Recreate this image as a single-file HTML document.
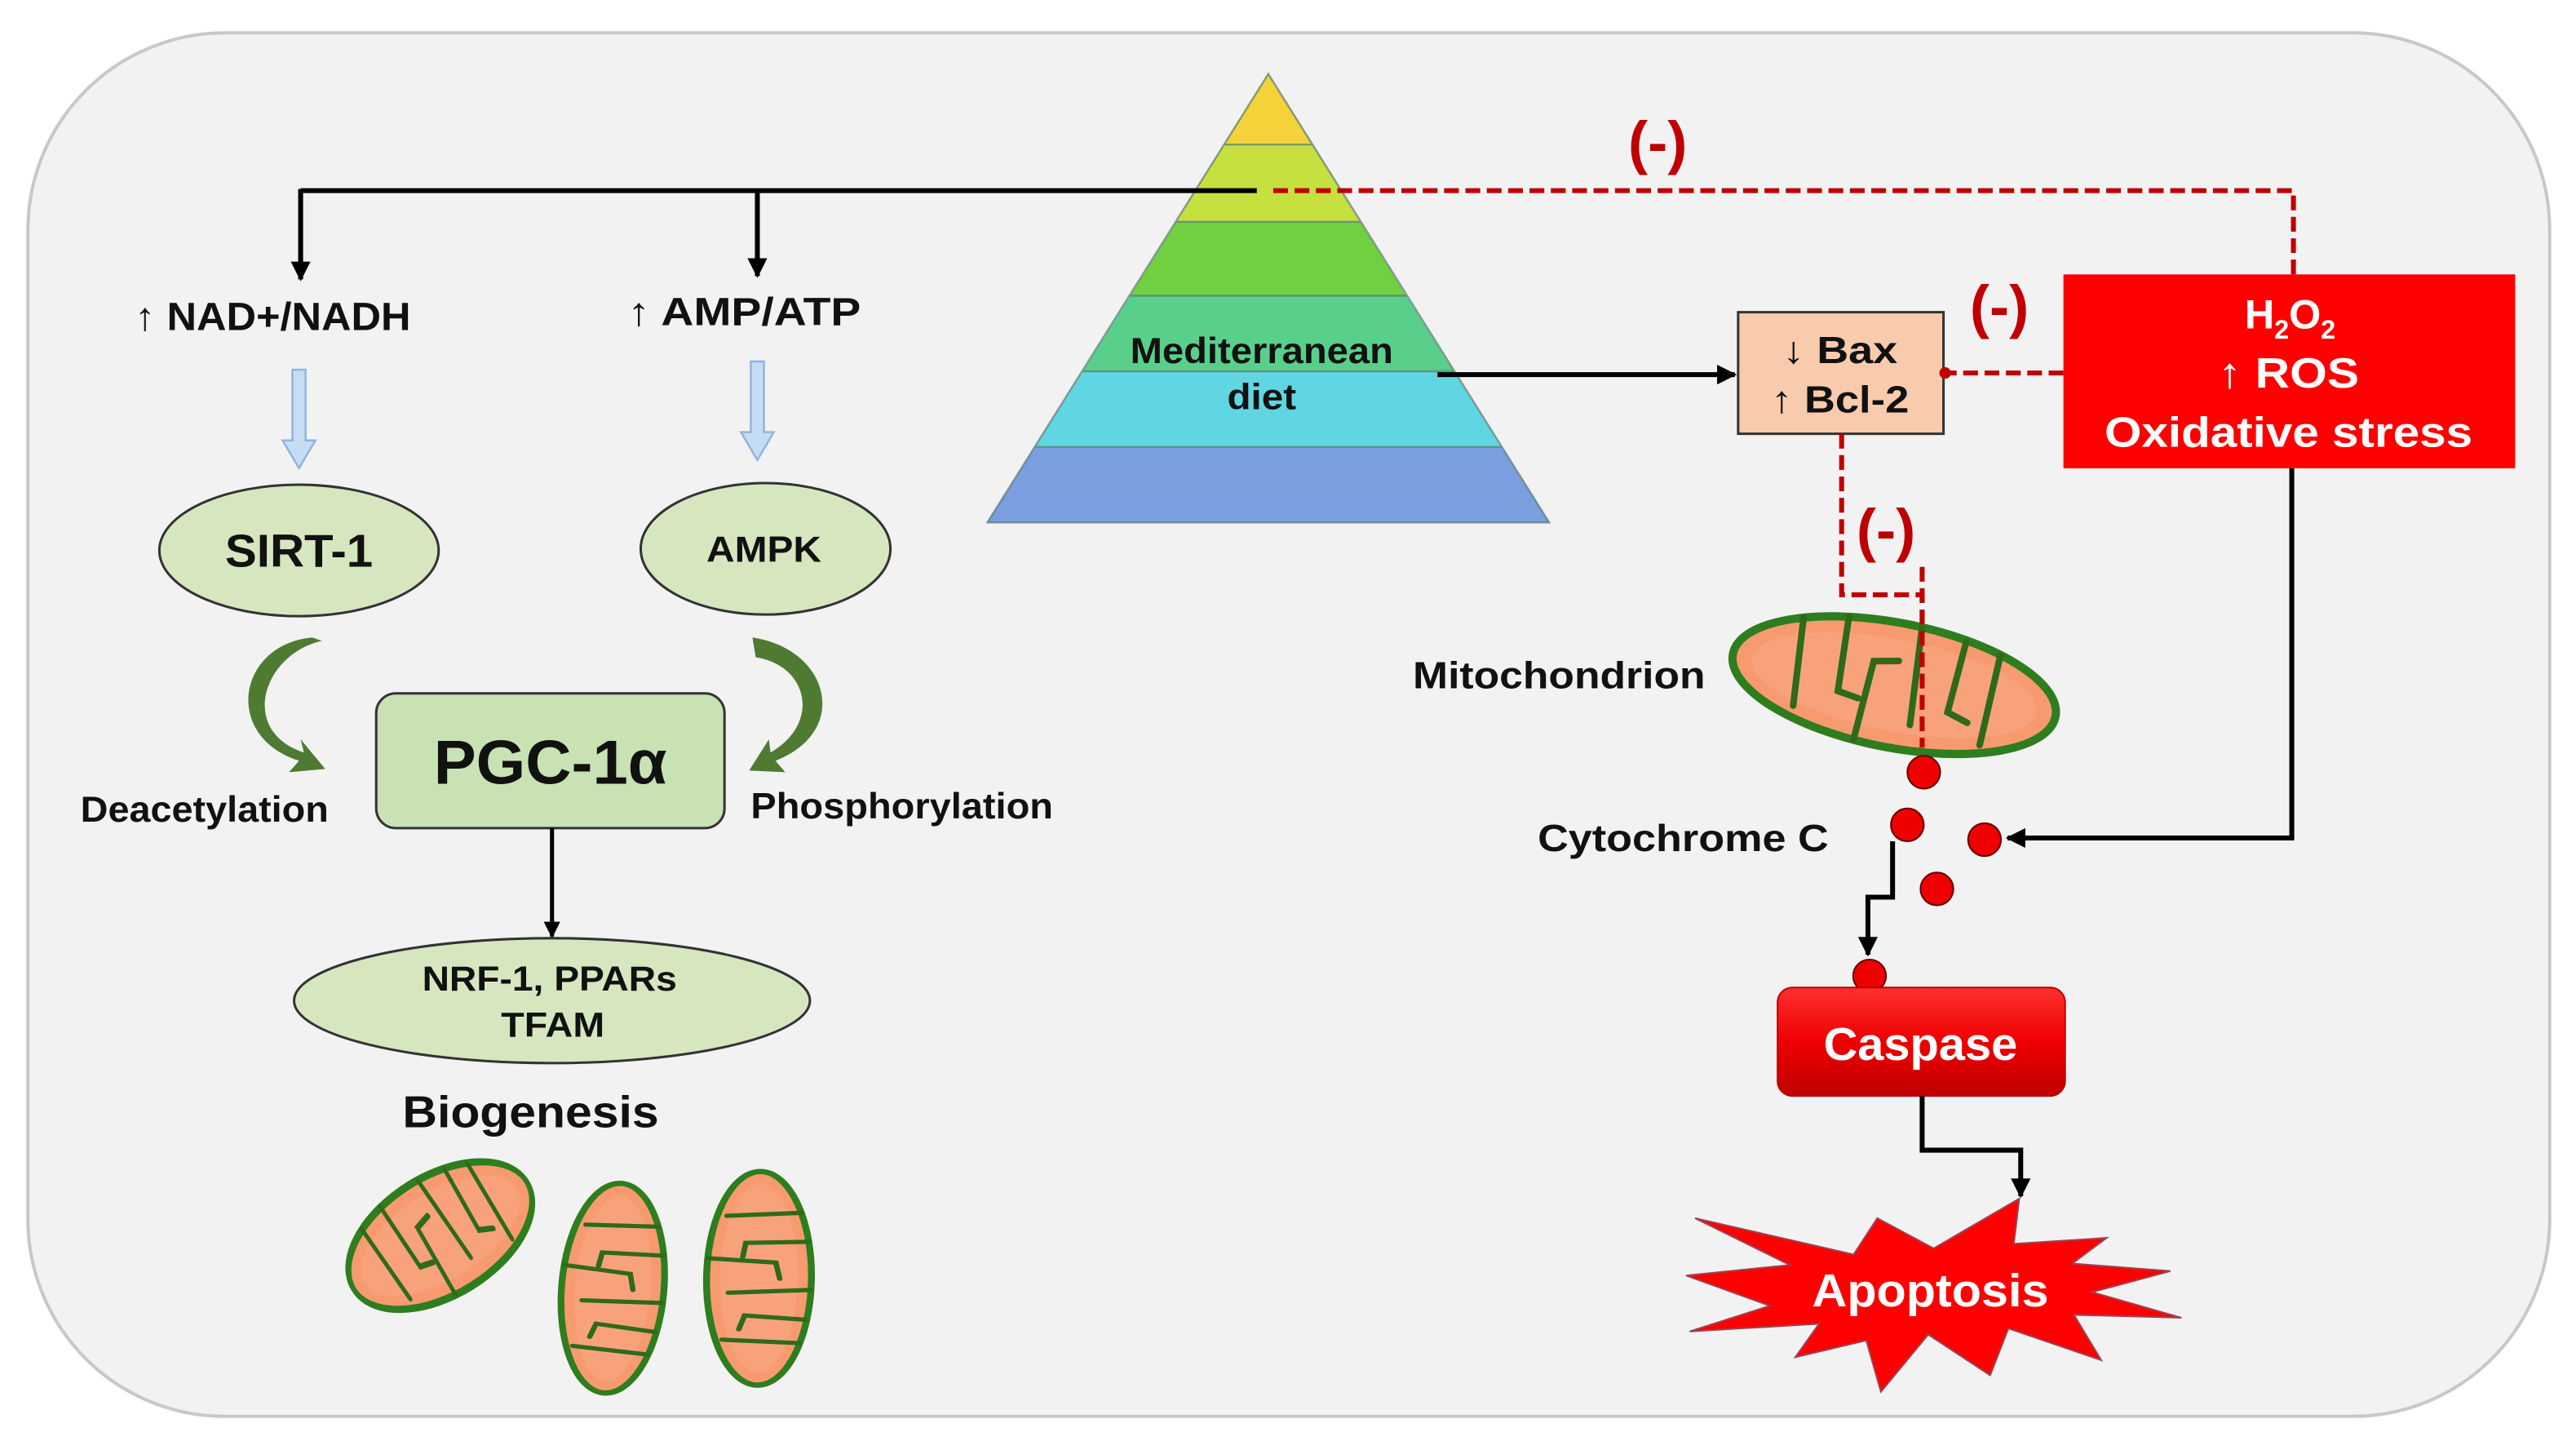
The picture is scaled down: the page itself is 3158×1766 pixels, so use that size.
<!DOCTYPE html>
<html><head><meta charset="utf-8"><style>
html,body{margin:0;padding:0;background:#fff;}
svg{display:block;}
text{font-family:"Liberation Sans",Arial,sans-serif;font-weight:bold;}
</style></head><body>
<svg width="3158" height="1766" viewBox="0 0 1568 877" preserveAspectRatio="none" xmlns="http://www.w3.org/2000/svg">
<defs>
<marker id="ah" viewBox="0 0 10 10" refX="9" refY="5" markerWidth="4" markerHeight="4" orient="auto"><path d="M0,0 L10,5 L0,10 z" fill="#000"/></marker>
<linearGradient id="cas" x1="0" y1="0" x2="0" y2="1"><stop offset="0" stop-color="#ff3030"/><stop offset="0.5" stop-color="#ee0000"/><stop offset="1" stop-color="#c00000"/></linearGradient>
<g id="mito">
<ellipse cx="0" cy="0" rx="100" ry="38" fill="#f79a70" stroke="#2e7d1e" stroke-width="5"/>
<ellipse cx="0" cy="0" rx="88" ry="28" fill="#f9a883" opacity="0.6"/>
<g stroke="#2e6a1a" stroke-width="4" fill="none" stroke-linecap="round">
<path d="M-62,-30 L-58,24"/><path d="M-35,-36 L-33,10 L-20,12"/><path d="M-18,37 L-15,-12 L0,-15"/><path d="M10,-37 L14,22"/><path d="M38,-34 L35,10 L48,14"/><path d="M60,-30 L58,26"/>
</g>
</g>
</defs>
<rect x="0" y="0" width="1568" height="877" fill="#fff"/>
<rect x="17" y="20" width="1535" height="842" rx="120" ry="120" fill="#f2f2f2" stroke="#c8c8c8" stroke-width="2"/>

<!-- pyramid -->
<polygon points="772,45 745,88 799,88" fill="#f3d23a"/>
<polygon points="745,88 799,88 828,135 716,135" fill="#c6e040"/>
<polygon points="716,135 828,135 856,180 688,180" fill="#70d040"/>
<polygon points="688,180 856,180 885,226 659,226" fill="#58d08c"/>
<polygon points="659,226 885,226 914,272 630,272" fill="#60d6e2"/>
<polygon points="630,272 914,272 943,318 601,318" fill="#7a9ee0"/>
<g stroke="#5a7a70" stroke-width="1.2" fill="none" opacity="0.7">
<line x1="745" y1="88" x2="799" y2="88"/><line x1="716" y1="135" x2="828" y2="135"/><line x1="688" y1="180" x2="856" y2="180"/><line x1="659" y1="226" x2="885" y2="226"/><line x1="630" y1="272" x2="914" y2="272"/>
<polygon points="772,45 943,318 601,318"/>
</g>
<text x="688" y="221" font-size="22" textLength="160" lengthAdjust="spacingAndGlyphs" fill="#111">Mediterranean</text>
<text x="747" y="249" font-size="22" textLength="42" lengthAdjust="spacingAndGlyphs" fill="#111">diet</text>

<!-- top black line -->
<polyline points="183,116 765,116" stroke="#000" stroke-width="3" fill="none"/>
<line x1="183" y1="115" x2="183" y2="170" stroke="#000" stroke-width="3" marker-end="url(#ah)"/>
<line x1="461" y1="115" x2="461" y2="168" stroke="#000" stroke-width="3" marker-end="url(#ah)"/>

<text x="82" y="201" font-size="24" textLength="168" lengthAdjust="spacingAndGlyphs" fill="#111">↑ NAD+/NADH</text>
<text x="382" y="198" font-size="24" textLength="142" lengthAdjust="spacingAndGlyphs" fill="#111">↑  AMP/ATP</text>

<!-- light blue arrows -->
<path d="M178,225 L186,225 L186,268 L192,268 L182,285 L172,268 L178,268 Z" fill="#c5dcf5" stroke="#8fb3de" stroke-width="1.2"/>
<path d="M457,220 L465,220 L465,263 L471,263 L461,280 L451,263 L457,263 Z" fill="#c5dcf5" stroke="#8fb3de" stroke-width="1.2"/>

<ellipse cx="182" cy="335" rx="85" ry="40" fill="#d6e7c0" stroke="#333" stroke-width="1.5"/>
<text x="137" y="345" font-size="28" textLength="90" lengthAdjust="spacingAndGlyphs" fill="#111">SIRT-1</text>
<ellipse cx="466" cy="334" rx="76" ry="40" fill="#d6e7c0" stroke="#333" stroke-width="1.5"/>
<text x="430" y="342" font-size="22" textLength="70" lengthAdjust="spacingAndGlyphs" fill="#111">AMPK</text>

<!-- green curved arrows -->
<path d="M196,390 C160,398 145,445 185,458 L183,450 L198,468 L176,470 L182,463 C135,448 145,392 190,388 Z" fill="#4e7a32"/>
<path d="M458,388 C505,395 518,445 472,463 L478,470 L456,469 L468,450 L469,458 C500,440 492,405 460,400 Z" fill="#4e7a32"/>

<rect x="229" y="422" width="212" height="82" rx="12" fill="#c8e2b4" stroke="#333" stroke-width="1.5"/>
<text x="264" y="477" font-size="38" textLength="142" lengthAdjust="spacingAndGlyphs" fill="#111">PGC-1α</text>
<text x="49" y="500" font-size="22" textLength="151" lengthAdjust="spacingAndGlyphs" fill="#111">Deacetylation</text>
<text x="457" y="498" font-size="22" textLength="184" lengthAdjust="spacingAndGlyphs" fill="#111">Phosphorylation</text>

<line x1="336" y1="504" x2="336" y2="570" stroke="#000" stroke-width="2.5" marker-end="url(#ah)"/>
<ellipse cx="336" cy="609" rx="157" ry="38" fill="#d6e7c0" stroke="#333" stroke-width="1.5"/>
<text x="257" y="603" font-size="21" textLength="155" lengthAdjust="spacingAndGlyphs" fill="#111">NRF-1, PPARs</text>
<text x="305" y="631" font-size="21" textLength="63" lengthAdjust="spacingAndGlyphs" fill="#111">TFAM</text>
<text x="245" y="686" font-size="27" textLength="156" lengthAdjust="spacingAndGlyphs" fill="#111">Biogenesis</text>

<use href="#mito" transform="translate(268,752) rotate(-32) scale(0.62,0.95)"/>
<use href="#mito" transform="translate(373,784) rotate(95) scale(0.64,0.82)"/>
<use href="#mito" transform="translate(462,778) rotate(91) scale(0.65,0.84)"/>

<!-- right side -->
<polyline points="875,228 965,228 1056,228" stroke="#000" stroke-width="3" fill="none" marker-end="url(#ah)"/>
<rect x="1058" y="190" width="125" height="74" fill="#f8cbad" stroke="#333" stroke-width="1.5"/>
<text x="1085" y="221" font-size="23" textLength="70" lengthAdjust="spacingAndGlyphs" fill="#111">↓ Bax</text>
<text x="1078" y="251" font-size="23" textLength="84" lengthAdjust="spacingAndGlyphs" fill="#111">↑ Bcl-2</text>

<rect x="1256" y="167" width="275" height="118" fill="#ff0000"/>
<text x="1394" y="200" font-size="25" text-anchor="middle" fill="#fff">H<tspan font-size="16" dy="6">2</tspan><tspan dy="-6">O</tspan><tspan font-size="16" dy="6">2</tspan></text>
<text x="1350" y="236" font-size="26" textLength="86" lengthAdjust="spacingAndGlyphs" fill="#fff">↑ ROS</text>
<text x="1281" y="272" font-size="26" textLength="224" lengthAdjust="spacingAndGlyphs" fill="#fff">Oxidative stress</text>

<!-- dashed red -->
<g stroke="#c00000" stroke-width="3" fill="none" stroke-dasharray="9,4">
<polyline points="775,116 1396,116 1396,167"/>
<line x1="1256" y1="227" x2="1186" y2="227"/>
<polyline points="1121,264 1121,362 1170,362 1170,462"/>
</g>
<circle cx="1184" cy="227" r="3.5" fill="#c00000"/>
<text x="1009" y="99" font-size="36" text-anchor="middle" fill="#c00000">(-)</text>
<text x="1217" y="199" font-size="36" text-anchor="middle" fill="#c00000">(-)</text>
<text x="1148" y="335" font-size="36" text-anchor="middle" fill="#c00000">(-)</text>

<use href="#mito" transform="translate(1153,417) rotate(11)"/>
<line x1="1170" y1="345" x2="1170" y2="455" stroke="#c00000" stroke-width="3" stroke-dasharray="9,4"/>
<text x="860" y="419" font-size="23" textLength="178" lengthAdjust="spacingAndGlyphs" fill="#111">Mitochondrion</text>
<text x="936" y="518" font-size="23" textLength="177" lengthAdjust="spacingAndGlyphs" fill="#111">Cytochrome C</text>

<g fill="#ee0000" stroke="#600" stroke-width="1">
<circle cx="1171" cy="470" r="10"/><circle cx="1161" cy="502" r="10"/><circle cx="1208" cy="511" r="10"/><circle cx="1179" cy="541" r="10"/><circle cx="1138" cy="594" r="10"/>
</g>
<polyline points="1152,512 1152,546 1137,546 1137,581" stroke="#000" stroke-width="3" fill="none" marker-end="url(#ah)"/>
<polyline points="1395,285 1395,510 1222,510" stroke="#000" stroke-width="3" fill="none" marker-end="url(#ah)"/>

<rect x="1082" y="601" width="175" height="66" rx="9" fill="url(#cas)" stroke="#b00" stroke-width="1"/>
<text x="1110" y="645" font-size="28" textLength="118" lengthAdjust="spacingAndGlyphs" fill="#fff">Caspase</text>
<polyline points="1170,667 1170,700 1230,700 1230,728" stroke="#000" stroke-width="3" fill="none" marker-end="url(#ah)"/>

<polygon fill="#ff0000" stroke="#a04050" stroke-width="1" points="1031.8,741.4 1089.5,769.9 1026.3,776.3 1077.3,794.7 1028.5,810.3 1107.2,805.7 1092.8,826 1136,815.8 1144.9,847 1173.7,812.2 1211.4,837 1222.5,808.5 1279,827.8 1262.4,800.2 1327.8,802 1273.5,786.4 1321.1,773.6 1261.3,769 1282.3,753.4 1225.8,757 1229.1,729.5 1177,759.8 1142.7,741.4 1128.3,763.5"/>
<text x="1103" y="795" font-size="28" textLength="144" lengthAdjust="spacingAndGlyphs" fill="#fff">Apoptosis</text>
</svg>
</body></html>
